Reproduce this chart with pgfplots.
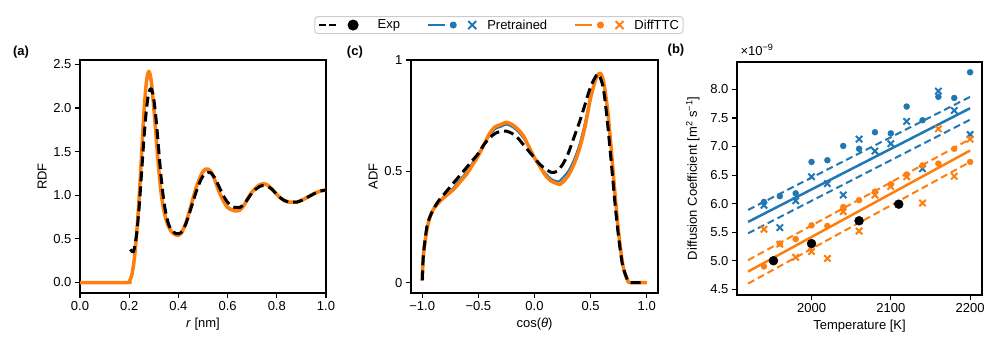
\documentclass[border=0pt]{standalone}
\usepackage{fontspec}
\setmainfont{Liberation Sans}
\usepackage{pgfplots}
\pgfplotsset{compat=1.18}

\definecolor{tabblue}{HTML}{1F77B4}
\definecolor{taborange}{HTML}{FF7F0E}

\pgfplotsset{
  panel/.style={
    scale only axis, height=233pt,
    axis line style={line width=1.1pt},
    tick style={black, line width=1.1pt},
    tick align=outside, major tick length=5pt,
    xtick pos=left, ytick pos=left,
    clip mode=individual,
    every axis plot/.append style={line join=round},
  },
  exp/.style={black, line width=3pt, dash pattern=on 10pt off 5pt},
}

\begin{document}
\begin{tikzpicture}[font=\fontsize{13}{15.6}\selectfont]
\useasboundingbox (0,0) rectangle (997pt,353pt);

% (a) radial distribution
\begin{axis}[panel, at={(80pt,60pt)}, anchor=south west, width=246pt,
  xmin=0, xmax=1, ymin=-0.12, ymax=2.55,
  xtick={0,0.2,0.4,0.6,0.8,1}, xticklabels={0.0,0.2,0.4,0.6,0.8,1.0},
  ytick={0,0.5,1,1.5,2,2.5}, yticklabels={0.0,0.5,1.0,1.5,2.0,2.5},
  xlabel={\textit{r} [nm]}, ylabel={RDF}]
\node[font=\fontsize{13}{15.6}\selectfont\bfseries] at (rel axis cs:-0.24,1.034) {(a)};
\addplot[tabblue, line width=2pt, smooth] coordinates {
(0,0) (0.19,0) (0.20,0.02) (0.21,0.09) (0.22,0.27) (0.23,0.57) (0.24,0.97)
(0.25,1.45) (0.26,1.93) (0.27,2.27) (0.28,2.38) (0.29,2.28) (0.30,2.00)
(0.31,1.65) (0.32,1.31) (0.33,1.03) (0.34,0.85) (0.35,0.73) (0.36,0.65)
(0.37,0.60) (0.38,0.57) (0.39,0.555) (0.40,0.55) (0.41,0.57) (0.42,0.62)
(0.43,0.69) (0.44,0.78) (0.45,0.88) (0.46,0.98) (0.47,1.07) (0.48,1.15)
(0.49,1.21) (0.50,1.26) (0.51,1.29) (0.52,1.29) (0.53,1.27) (0.54,1.22)
(0.55,1.15) (0.56,1.08) (0.57,1.01) (0.58,0.95) (0.59,0.90) (0.60,0.87)
(0.61,0.85) (0.62,0.84) (0.63,0.83) (0.64,0.83) (0.65,0.84) (0.66,0.87)
(0.67,0.91) (0.68,0.95) (0.69,1.00) (0.70,1.04) (0.71,1.07) (0.72,1.10)
(0.73,1.12) (0.74,1.13) (0.75,1.13) (0.76,1.12) (0.77,1.10) (0.78,1.07)
(0.79,1.04) (0.80,1.01) (0.81,0.98) (0.82,0.96) (0.83,0.94) (0.84,0.93)
(0.85,0.92) (0.86,0.92) (0.87,0.92) (0.88,0.92) (0.89,0.93) (0.90,0.94)
(0.92,0.97) (0.94,1.00) (0.96,1.03) (0.98,1.05) (1.00,1.06)
};
\addplot[taborange, line width=3.5pt, smooth] coordinates {
(0,0) (0.19,0) (0.20,0.01) (0.21,0.08) (0.22,0.25) (0.23,0.55) (0.24,0.95)
(0.25,1.45) (0.26,1.95) (0.27,2.30) (0.28,2.42) (0.29,2.30) (0.30,2.00)
(0.31,1.65) (0.32,1.30) (0.33,1.02) (0.34,0.84) (0.35,0.72) (0.36,0.64)
(0.37,0.59) (0.38,0.56) (0.39,0.545) (0.40,0.54) (0.41,0.56) (0.42,0.61)
(0.43,0.68) (0.44,0.77) (0.45,0.87) (0.46,0.97) (0.47,1.07) (0.48,1.15)
(0.49,1.22) (0.50,1.27) (0.51,1.30) (0.52,1.30) (0.53,1.28) (0.54,1.23)
(0.55,1.16) (0.56,1.08) (0.57,1.01) (0.58,0.95) (0.59,0.90) (0.60,0.86)
(0.61,0.84) (0.62,0.83) (0.63,0.82) (0.64,0.82) (0.65,0.83) (0.66,0.86)
(0.67,0.90) (0.68,0.95) (0.69,1.00) (0.70,1.04) (0.71,1.07) (0.72,1.10)
(0.73,1.12) (0.74,1.13) (0.75,1.13) (0.76,1.12) (0.77,1.10) (0.78,1.07)
(0.79,1.04) (0.80,1.01) (0.81,0.98) (0.82,0.96) (0.83,0.94) (0.84,0.93)
(0.85,0.92) (0.86,0.92) (0.87,0.92) (0.88,0.92) (0.89,0.93) (0.90,0.94)
(0.92,0.97) (0.94,1.00) (0.96,1.03) (0.98,1.05) (1.00,1.06)
};
\addplot[exp, smooth] coordinates {
(0.205,0.38) (0.21,0.36) (0.215,0.35) (0.22,0.38) (0.23,0.55) (0.24,0.85)
(0.25,1.25) (0.26,1.65) (0.27,1.98) (0.28,2.18) (0.29,2.22) (0.30,2.10)
(0.31,1.85) (0.32,1.52) (0.33,1.20) (0.34,0.95) (0.35,0.78) (0.36,0.67)
(0.37,0.61) (0.38,0.58) (0.39,0.56) (0.40,0.56) (0.41,0.57) (0.42,0.61)
(0.43,0.67) (0.44,0.75) (0.45,0.84) (0.46,0.93) (0.47,1.02) (0.48,1.10)
(0.49,1.17) (0.50,1.22) (0.51,1.25) (0.52,1.26) (0.53,1.26) (0.54,1.23)
(0.55,1.19) (0.56,1.13) (0.57,1.07) (0.58,1.01) (0.59,0.96) (0.60,0.92)
(0.61,0.89) (0.62,0.87) (0.63,0.86) (0.64,0.86) (0.65,0.86) (0.66,0.88)
(0.67,0.91) (0.68,0.95) (0.69,0.99) (0.70,1.03) (0.71,1.06) (0.72,1.08)
(0.73,1.10) (0.74,1.11) (0.75,1.11) (0.76,1.10) (0.77,1.09) (0.78,1.07)
(0.79,1.04) (0.80,1.01) (0.81,0.98) (0.82,0.96) (0.83,0.94) (0.84,0.93)
(0.85,0.92) (0.86,0.92) (0.87,0.92) (0.88,0.92) (0.89,0.93) (0.90,0.94)
(0.92,0.97) (0.94,1.00) (0.96,1.03) (0.98,1.05) (1.00,1.06)
};
\end{axis}

% (c) angular distribution, carries the shared legend
\begin{axis}[panel, at={(411pt,60pt)}, anchor=south west, width=247pt,
  xmin=-1.1, xmax=1.1, ymin=-0.047, ymax=1,
  xtick={-1,-0.5,0,0.5,1}, xticklabels={−1.0,−0.5,0.0,0.5,1.0},
  ytick={0,0.5,1}, yticklabels={0,0.5,1},
  xlabel={cos(\textit{θ})}, ylabel={ADF},
  legend columns=3, legend cell align=left,
  legend style={at={(0.356,1.150)}, anchor=center, draw=black!20, line width=1pt,
    rounded corners=3pt, inner xsep=3pt, inner ysep=2pt,
    nodes={inner sep=1pt},
    /tikz/every odd column/.append style={column sep=9pt},
    /tikz/every even column/.append style={column sep=26pt}}]
\node[font=\fontsize{13}{15.6}\selectfont\bfseries] at (rel axis cs:-0.227,1.034) {(c)};
\addlegendimage{legend image code/.code={
  \draw[black, line width=2.5pt, dash pattern=on 7pt off 3pt] (0pt,0pt) -- (17pt,0pt);
  \fill[black] (34pt,0pt) circle (5pt);
  \path (48pt,0pt);}}
\addlegendentry{Exp}
\addlegendimage{legend image code/.code={
  \draw[tabblue, line width=2.5pt] (0pt,0pt) -- (17pt,0pt);
  \fill[tabblue] (25pt,0pt) circle (3pt);
  \draw[tabblue, line width=2pt] (40pt,-4pt) -- (48pt,4pt) (40pt,4pt) -- (48pt,-4pt);}}
\addlegendentry{Pretrained}
\addlegendimage{legend image code/.code={
  \draw[taborange, line width=2.5pt] (0pt,0pt) -- (17pt,0pt);
  \fill[taborange] (25pt,0pt) circle (3pt);
  \draw[taborange, line width=2pt] (40pt,-4pt) -- (48pt,4pt) (40pt,4pt) -- (48pt,-4pt);}}
\addlegendentry{DiffTTC}
\addplot[tabblue, line width=2pt, smooth, forget plot] coordinates {
(-1.0,0.01) (-0.99,0.12) (-0.97,0.20) (-0.95,0.26) (-0.92,0.31) (-0.90,0.33)
(-0.85,0.36) (-0.80,0.39) (-0.75,0.41) (-0.70,0.44) (-0.65,0.47) (-0.60,0.50)
(-0.55,0.54) (-0.50,0.58) (-0.45,0.62) (-0.40,0.66) (-0.35,0.69) (-0.30,0.70)
(-0.25,0.71) (-0.20,0.70) (-0.15,0.68) (-0.10,0.65) (-0.05,0.61) (0.00,0.56)
(0.05,0.52) (0.10,0.49) (0.15,0.465) (0.20,0.455) (0.22,0.455) (0.25,0.47)
(0.30,0.50) (0.35,0.55) (0.40,0.62) (0.45,0.72) (0.50,0.84) (0.55,0.92)
(0.57,0.94) (0.60,0.92) (0.62,0.88) (0.65,0.77) (0.68,0.61) (0.70,0.49)
(0.72,0.37) (0.75,0.21) (0.78,0.10) (0.80,0.05) (0.83,0.01) (0.85,0)
(1.00,0)
};
\addplot[taborange, line width=3.5pt, smooth, forget plot] coordinates {
(-1.0,0.01) (-0.99,0.12) (-0.97,0.20) (-0.95,0.26) (-0.92,0.31) (-0.90,0.33)
(-0.85,0.36) (-0.80,0.385) (-0.75,0.405) (-0.70,0.43) (-0.65,0.46) (-0.60,0.49)
(-0.55,0.53) (-0.50,0.57) (-0.45,0.62) (-0.40,0.67) (-0.35,0.70) (-0.30,0.71)
(-0.25,0.72) (-0.20,0.71) (-0.15,0.69) (-0.10,0.66) (-0.05,0.61) (0.00,0.56)
(0.05,0.52) (0.10,0.48) (0.15,0.455) (0.20,0.445) (0.22,0.44) (0.25,0.45)
(0.30,0.48) (0.35,0.53) (0.40,0.60) (0.45,0.70) (0.50,0.83) (0.55,0.92)
(0.58,0.94) (0.60,0.93) (0.62,0.89) (0.65,0.78) (0.68,0.62) (0.70,0.50)
(0.72,0.38) (0.75,0.22) (0.78,0.10) (0.80,0.05) (0.83,0.01) (0.85,0)
(1.00,0)
};
\addplot[exp, smooth, forget plot] coordinates {
(-1.0,0.01) (-0.99,0.12) (-0.97,0.21) (-0.95,0.27) (-0.90,0.33) (-0.85,0.37)
(-0.80,0.40) (-0.75,0.43) (-0.70,0.46) (-0.65,0.49) (-0.60,0.52) (-0.55,0.55)
(-0.50,0.58) (-0.45,0.62) (-0.40,0.65) (-0.35,0.67) (-0.30,0.68) (-0.25,0.68)
(-0.20,0.67) (-0.15,0.65) (-0.10,0.62) (-0.05,0.59) (0.00,0.56) (0.05,0.53)
(0.10,0.51) (0.15,0.495) (0.20,0.50) (0.25,0.53) (0.30,0.58) (0.35,0.65)
(0.40,0.72) (0.45,0.80) (0.50,0.88) (0.55,0.93) (0.57,0.935) (0.60,0.90)
(0.62,0.85) (0.65,0.72) (0.68,0.56) (0.70,0.45) (0.72,0.34) (0.75,0.20)
(0.78,0.09) (0.80,0.05) (0.83,0.01) (0.85,0) (0.95,0)
};
\end{axis}

% (b) diffusion coefficient (values in units of 1e-9 m^2/s)
\begin{axis}[panel, at={(737pt,58pt)}, anchor=south west, width=245pt,
  xmin=1906, xmax=2215, ymin=4.40, ymax=8.48,
  xtick={2000,2100,2200}, xticklabels={2000,2100,2200},
  ytick={4.5,5,5.5,6,6.5,7,7.5,8},
  yticklabels={4.5,5.0,5.5,6.0,6.5,7.0,7.5,8.0},
  xlabel={Temperature [K]}, ylabel shift=4pt,
  ylabel={Diffusion Coefficient [m\textsuperscript{2} s\textsuperscript{−1}]}]
\node[font=\fontsize{13}{15.6}\selectfont\bfseries] at (rel axis cs:-0.249,1.052) {(b)};
\node[anchor=west] at (rel axis cs:0,1.052) {×10\textsuperscript{−9}};
% fits with bands
\addplot[tabblue, line width=2.5pt] coordinates {(1920,5.68) (2200,7.67)};
\addplot[tabblue, line width=2pt, dash pattern=on 7pt off 4pt] coordinates {(1920,5.89) (2200,7.87)};
\addplot[tabblue, line width=2pt, dash pattern=on 7pt off 4pt] coordinates {(1920,5.48) (2200,7.47)};
\addplot[taborange, line width=2.5pt] coordinates {(1920,4.81) (2200,6.93)};
\addplot[taborange, line width=2pt, dash pattern=on 7pt off 4pt] coordinates {(1920,5.01) (2200,7.13)};
\addplot[taborange, line width=2pt, dash pattern=on 7pt off 4pt] coordinates {(1920,4.60) (2200,6.73)};
% Pretrained
\addplot[only marks, mark=*, mark size=3pt, tabblue] coordinates {
(1940,6.03) (1960,6.13) (1980,6.18) (2000,6.73) (2020,6.76) (2040,7.01) (2060,6.96)
(2080,7.25) (2100,7.23) (2120,7.70) (2140,7.46) (2160,7.87) (2180,7.85) (2200,8.30)};
\addplot[only marks, mark=x, mark size=4.5pt, tabblue, mark options={line width=2pt}] coordinates {
(1940,5.97) (1960,5.58) (1980,6.05) (2000,6.47) (2020,6.35) (2040,6.15) (2060,7.13)
(2080,6.92) (2100,7.05) (2120,7.44) (2140,6.61) (2160,7.97) (2180,7.63) (2200,7.21)};
% DiffTTC
\addplot[only marks, mark=*, mark size=3pt, taborange] coordinates {
(1940,4.90) (1960,5.30) (1980,5.38) (2000,5.62) (2020,5.61) (2040,5.94) (2060,6.06)
(2080,6.21) (2100,6.34) (2120,6.51) (2140,6.67) (2160,6.70) (2180,6.96) (2200,6.73)};
\addplot[only marks, mark=x, mark size=4.5pt, taborange, mark options={line width=2pt}] coordinates {
(1940,5.55) (1960,5.29) (1980,5.06) (2000,5.16) (2020,5.04) (2040,5.86) (2060,5.52)
(2080,6.15) (2100,6.30) (2120,6.47) (2140,6.01) (2160,7.31) (2180,6.48) (2200,7.13)};
% Exp
\addplot[only marks, mark=*, mark size=4.5pt, black] coordinates {
(1952,5.00) (2000,5.30) (2060,5.70) (2110,5.99)};
\end{axis}
\end{tikzpicture}
\end{document}
